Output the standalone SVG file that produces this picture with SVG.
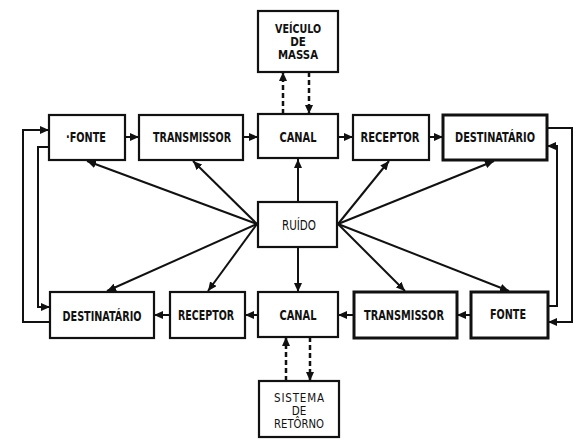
<svg xmlns="http://www.w3.org/2000/svg" width="585" height="443" viewBox="0 0 585 443">
<defs>
<marker id="ah" markerUnits="userSpaceOnUse" markerWidth="10" markerHeight="8" refX="9" refY="4" orient="auto">
<path d="M0,0 L9,4 L0,8 Z" fill="#111"/>
</marker>
<style>
.box{fill:#fff;stroke:#111;stroke-width:2.2}
.thick{stroke-width:3}
.t{font-family:"Liberation Sans Narrow","DejaVu Sans Condensed","Liberation Sans",sans-serif;font-size:14px;font-weight:bold;fill:#111;text-anchor:middle}
.m{font-size:11.5px}
.r{font-weight:normal}
.ln{fill:none;stroke:#111;stroke-width:2}
.dash{fill:none;stroke:#111;stroke-width:2.5;stroke-dasharray:5 3}
</style>
</defs>
<rect width="585" height="443" fill="#fff"/>
<g id="connectors">
<line class="ln" x1="125" y1="137" x2="139" y2="137" marker-end="url(#ah)"/>
<line class="ln" x1="243" y1="137" x2="258" y2="137" marker-end="url(#ah)"/>
<line class="ln" x1="338" y1="137" x2="353" y2="137" marker-end="url(#ah)"/>
<line class="ln" x1="429" y1="137" x2="443" y2="137" marker-end="url(#ah)"/>
<line class="ln" x1="471" y1="315" x2="457" y2="315" marker-end="url(#ah)"/>
<line class="ln" x1="354" y1="315" x2="338" y2="315" marker-end="url(#ah)"/>
<line class="ln" x1="258" y1="315" x2="245" y2="315" marker-end="url(#ah)"/>
<line class="ln" x1="170" y1="315" x2="154" y2="315" marker-end="url(#ah)"/>
<polyline class="ln" points="50,322 23,322 23,130 49,130" marker-end="url(#ah)"/>
<polyline class="ln" points="49,147 38,147 38,307 50,307" marker-end="url(#ah)"/>
<polyline class="ln" points="547,128 572,128 572,322 548,322" marker-end="url(#ah)"/>
<polyline class="ln" points="548,306 557,306 557,146 547,146" marker-end="url(#ah)"/>
<line class="dash" x1="283" y1="114" x2="283" y2="72" marker-end="url(#ah)"/>
<line class="dash" x1="309" y1="72" x2="309" y2="114" marker-end="url(#ah)"/>
<line class="dash" x1="286" y1="381" x2="286" y2="337" marker-end="url(#ah)"/>
<line class="dash" x1="310" y1="337" x2="310" y2="381" marker-end="url(#ah)"/>
<line class="ln" x1="298" y1="202" x2="298" y2="159" marker-end="url(#ah)"/>
<line class="ln" x1="298" y1="247" x2="298" y2="292" marker-end="url(#ah)"/>
<line class="ln" x1="257" y1="224" x2="87" y2="161" marker-end="url(#ah)"/>
<line class="ln" x1="257" y1="224" x2="193" y2="161" marker-end="url(#ah)"/>
<line class="ln" x1="257" y1="224" x2="107" y2="291" marker-end="url(#ah)"/>
<line class="ln" x1="257" y1="224" x2="208" y2="291" marker-end="url(#ah)"/>
<line class="ln" x1="338" y1="224" x2="389" y2="161" marker-end="url(#ah)"/>
<line class="ln" x1="338" y1="224" x2="494" y2="161" marker-end="url(#ah)" stroke-width="2.5"/>
<line class="ln" x1="338" y1="224" x2="405" y2="291" marker-end="url(#ah)"/>
<line class="ln" x1="338" y1="224" x2="509" y2="291" marker-end="url(#ah)" stroke-width="2.5"/>
</g>
<g id="veiculo">
<rect class="box" x="258" y="11" width="80" height="61"/>
<text class="t m" x="298" y="33" textLength="46" lengthAdjust="spacingAndGlyphs">VEÍCULO</text>
<text class="t m" x="298" y="46">DE</text>
<text class="t m" x="298" y="59" textLength="40" lengthAdjust="spacingAndGlyphs">MASSA</text>
</g>
<g id="fonte1">
<rect class="box" x="49" y="115" width="76" height="45"/>
<text class="t" x="86" y="142" textLength="40" lengthAdjust="spacingAndGlyphs">·FONTE</text>
</g>
<g id="transmissor1">
<rect class="box" x="139" y="115" width="104" height="45"/>
<text class="t" x="192" y="142" textLength="78" lengthAdjust="spacingAndGlyphs">TRANSMISSOR</text>
</g>
<g id="canal1">
<rect class="box" x="258" y="114" width="80" height="44"/>
<text class="t" x="298" y="142" textLength="37" lengthAdjust="spacingAndGlyphs">CANAL</text>
</g>
<g id="receptor1">
<rect class="box" x="353" y="115" width="76" height="45"/>
<text class="t" x="390" y="142" textLength="59" lengthAdjust="spacingAndGlyphs">RECEPTOR</text>
</g>
<g id="destinatario1">
<rect class="box thick" x="443" y="115" width="104" height="45"/>
<text class="t" x="495" y="142" textLength="80" lengthAdjust="spacingAndGlyphs">DESTINATÁRIO</text>
</g>
<g id="ruido">
<rect class="box" x="258" y="202" width="79" height="45"/>
<text class="t r" x="299" y="230" textLength="34" lengthAdjust="spacingAndGlyphs">RUÍDO</text>
</g>
<g id="destinatario2">
<rect class="box" x="50" y="292" width="104" height="46"/>
<text class="t" x="102" y="321" textLength="79" lengthAdjust="spacingAndGlyphs">DESTINATÁRIO</text>
</g>
<g id="receptor2">
<rect class="box" x="170" y="292" width="75" height="46"/>
<text class="t" x="206" y="320" textLength="56" lengthAdjust="spacingAndGlyphs">RECEPTOR</text>
</g>
<g id="canal2">
<rect class="box" x="258" y="292" width="80" height="45"/>
<text class="t" x="298" y="320" textLength="37" lengthAdjust="spacingAndGlyphs">CANAL</text>
</g>
<g id="transmissor2">
<rect class="box thick" x="354" y="292" width="103" height="46"/>
<text class="t" x="404" y="320" textLength="80" lengthAdjust="spacingAndGlyphs">TRANSMISSOR</text>
</g>
<g id="fonte2">
<rect class="box thick" x="471" y="292" width="77" height="46"/>
<text class="t" x="508" y="319" textLength="36" lengthAdjust="spacingAndGlyphs">FONTE</text>
</g>
<g id="sistema">
<rect class="box" x="259" y="381" width="80" height="56"/>
<text class="t m r" x="299" y="402" textLength="50" lengthAdjust="spacing">SISTEMA</text>
<text class="t m r" x="299" y="415">DE</text>
<text class="t m r" x="299" y="428" textLength="50" lengthAdjust="spacingAndGlyphs">RETÔRNO</text>
</g>
</svg>
